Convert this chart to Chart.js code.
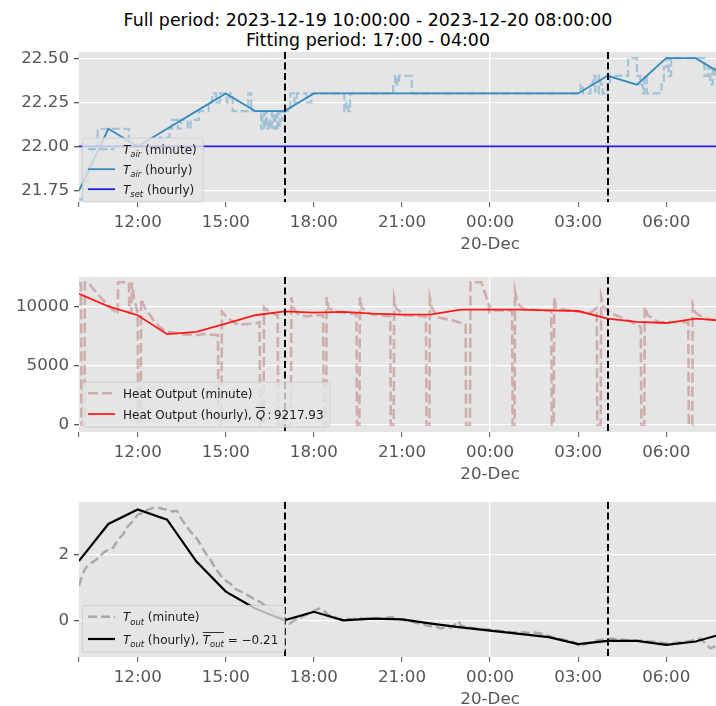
<!DOCTYPE html>
<html lang="en">
<head>
<meta charset="UTF-8">
<title>Heating fit: air, heat output, outdoor temperature</title>
<script src="https://cdn.jsdelivr.net/npm/chart.js"></script>
<style>
    html, body { margin: 0; padding: 0; background: #fff; overflow: hidden; }
    body { width: 716px; height: 706px; position: relative; font-family: 'DejaVu Sans', sans-serif; }
    .title { position: absolute; left: 0; top: 10px; width: 736px; text-align: center; font-size: 17.4px; line-height: 20px; color: #000; }
    .panel { position: absolute; left: 0; width: 730px; }
</style>
</head>
<body>
<div class="title">Full period: 2023-12-19 10:00:00 - 2023-12-20 08:00:00<br>Fitting period: 17:00 - 04:00</div>
<div class="panel" style="top:47px;height:225px"><canvas id="airChart"></canvas></div>
<div class="panel" style="top:272px;height:225px"><canvas id="heatChart"></canvas></div>
<div class="panel" style="top:497px;height:209px"><canvas id="outChart"></canvas></div>

<script>
// time axis
const hourLabels = ['10:00','11:00','12:00','13:00','14:00','15:00','16:00','17:00','18:00','19:00','20:00','21:00',
                    '22:00','23:00','00:00','01:00','02:00','03:00','04:00','05:00','06:00','07:00','08:00'];
const tickTimes  = ['10:00','12:00','15:00','18:00','21:00','00:00','03:00','06:00'];
const tickLabels = ['', '12:00','15:00','18:00','21:00','00:00','03:00','06:00'];
const dayLabel = '20-Dec';
const fitStart = '17:00';
const fitEnd = '04:00';

// hourly series
const tAirHourly = [21.75, 22.1, 22.0, 22.1, 22.2, 22.3, 22.2, 22.2, 22.3, 22.3, 22.3, 22.3,
                    22.3, 22.3, 22.3, 22.3, 22.3, 22.3, 22.4, 22.35, 22.5, 22.5, 22.4];
const tSetHourly = [22.0, 22.0, 22.0, 22.0, 22.0, 22.0, 22.0, 22.0, 22.0, 22.0, 22.0, 22.0,
                    22.0, 22.0, 22.0, 22.0, 22.0, 22.0, 22.0, 22.0, 22.0, 22.0, 22.0];
const heatHourly = [11130, 10060, 9300, 7690, 7880, 8590, 9300, 9630, 9520, 9580, 9430, 9350,
                    9380, 9770, 9770, 9770, 9720, 9660, 9010, 8730, 8640, 9010, 8820];
const tOutHourly = [1.8, 2.92, 3.36, 3.05, 1.78, 0.87, 0.36, 0.0, 0.26, 0.0, 0.05, 0.03,
                    -0.1, -0.21, -0.31, -0.41, -0.51, -0.72, -0.62, -0.62, -0.74, -0.64, -0.39];

// minute series, [time, value] where the value changes
const tAirMinute = [
    ['10:00',21.7],['10:08',21.8],['10:18',21.9],['10:28',22.0],['10:38',22.1],['11:42',22.0],['12:45',22.05],
    ['13:05',22.1],['13:10',22.15],['13:22',22.1],['13:28',22.15],['13:42',22.1],['13:48',22.15],['14:05',22.2],
    ['14:25',22.25],['14:32',22.3],['14:40',22.25],['14:48',22.3],['15:02',22.25],['15:08',22.3],['15:14',22.2],
    ['15:46',22.3],['15:52',22.2],['16:12',22.1],['16:15',22.2],['16:18',22.1],['16:21',22.2],['16:24',22.1],
    ['16:27',22.15],['16:30',22.1],['16:34',22.2],['16:38',22.1],['16:42',22.2],['16:46',22.1],['16:50',22.2],
    ['16:55',22.15],['17:00',22.2],['17:12',22.3],['17:20',22.25],['17:25',22.3],['17:45',22.25],['17:55',22.3],
    ['19:02',22.2],['19:06',22.25],['19:10',22.2],['19:14',22.3],['20:42',22.35],['20:46',22.4],['20:50',22.35],
    ['20:54',22.4],['21:20',22.3],['03:05',22.35],['03:10',22.3],['03:25',22.35],['03:30',22.4],['03:35',22.3],
    ['03:42',22.4],['03:46',22.35],['03:50',22.3],['04:00',22.35],['04:05',22.4],['04:42',22.5],['05:00',22.4],
    ['05:07',22.35],['05:12',22.3],['05:15',22.4],['05:20',22.3],['05:50',22.35],['05:55',22.45],['06:00',22.5],
    ['06:05',22.4],['06:10',22.5],['07:15',22.5],['07:18',22.4],['07:25',22.45],['07:30',22.35],['07:35',22.45],
    ['07:40',22.4],['08:00',22.4]
];
const heatMinute = [
    ['10:00',12000],['10:04',12000],['10:05',0],['10:11',0],['10:12',12100],['10:18',12100],['10:40',11000],
    ['11:03',10000],['11:19',9400],['11:20',12100],['11:42',12100],['11:43',9500],['11:47',9500],['11:48',12100],
    ['11:52',10800],['12:00',9500],['12:01',0],['12:06',0],['12:07',10700],['12:15',9900],['12:30',9000],
    ['12:45',8300],['13:00',7900],['13:15',7800],['13:30',7700],['13:45',7650],['14:00',7600],['14:15',7700],
    ['14:30',7650],['14:44',7600],['14:45',0],['14:51',0],['14:52',9600],['15:05',9000],['15:25',8500],
    ['15:45',8550],['16:00',8600],['16:09',8700],['16:10',0],['16:17',0],['16:18',10000],['16:28',9600],
    ['16:46',9300],['16:47',0],['17:13',0],['17:14',10850],['17:18',9900],['17:30',9300],['17:45',9200],
    ['18:00',9300],['18:19',9300],['18:20',0],['18:25',0],['18:26',10850],['18:30',9900],['18:45',9600],
    ['19:05',9500],['19:27',9400],['19:28',0],['19:33',0],['19:34',10850],['19:38',9900],['19:55',9400],
    ['20:15',9300],['20:36',9200],['20:37',0],['20:43',0],['20:44',10700],['20:48',9900],['21:05',9300],
    ['21:25',9250],['21:49',9200],['21:50',0],['21:56',0],['21:57',10700],['22:01',9900],['22:15',9100],
    ['22:40',8900],['23:10',8550],['23:11',0],['23:19',0],['23:20',12100],['23:42',12100],['23:57',10300],
    ['23:58',9300],['23:59',10100],['00:10',9700],['00:30',9700],['00:45',9700],['00:46',0],['00:50',0],
    ['00:51',11300],['00:56',10300],['01:10',9800],['01:35',9750],['02:05',9700],['02:06',0],['02:10',0],
    ['02:11',10850],['02:15',10000],['02:30',9800],['03:00',9600],['03:25',9500],['03:38',9900],['03:39',0],
    ['03:46',0],['03:47',10850],['03:52',10000],['04:05',9500],['04:35',9000],['05:00',8500],['05:08',8300],
    ['05:09',0],['05:15',0],['05:16',10000],['05:22',9300],['05:45',8700],['06:15',8700],['06:45',8700],
    ['06:46',0],['06:53',0],['06:54',10200],['07:00',9500],['07:20',9000],['07:40',8900],['08:00',8800]
];
const tOutMinute = [
    ['10:00',1.05],['10:06',1.35],['10:12',1.55],['10:20',1.7],['10:30',1.78],['10:40',1.9],['10:50',2.05],
    ['11:00',2.15],['11:10',2.2],['11:20',2.45],['11:30',2.6],['11:40',2.85],['11:50',3.0],['12:00',3.2],
    ['12:10',3.25],['12:20',3.35],['12:30',3.4],['12:40',3.42],['12:50',3.38],['13:00',3.35],['13:10',3.3],
    ['13:20',3.32],['13:30',3.05],['13:40',2.85],['13:50',2.65],['14:00',2.5],['14:10',2.25],['14:20',2.0],
    ['14:30',1.8],['14:40',1.55],['14:50',1.35],['15:00',1.2],['15:10',1.1],['15:20',0.95],['15:30',0.88],
    ['15:40',0.8],['15:50',0.72],['16:00',0.62],['16:10',0.56],['16:20',0.45],['16:30',0.35],['16:40',0.22],
    ['16:50',0.12],['17:00',0.02],['17:10',-0.1],['17:20',0.0],['17:30',0.06],['17:40',0.15],['17:50',0.2],
    ['18:00',0.28],['18:10',0.36],['18:20',0.3],['18:30',0.16],['18:40',0.1],['18:50',0.05],['19:00',0.01],
    ['19:10',0.05],['19:20',0.03],['19:30',0.08],['19:40',0.05],['19:50',0.06],['20:00',0.04],['20:10',0.07],
    ['20:20',0.05],['20:30',0.08],['20:40',0.1],['20:50',0.05],['21:00',0.02],['21:10',0.0],['21:20',-0.04],
    ['21:30',-0.08],['21:40',-0.1],['21:50',-0.15],['22:00',-0.18],['22:10',-0.2],['22:20',-0.25],['22:30',-0.2],
    ['22:40',-0.22],['22:50',-0.1],['22:55',-0.02],['23:00',-0.15],['23:10',-0.2],['23:20',-0.22],['23:30',-0.24],
    ['23:40',-0.25],['23:50',-0.27],['00:00',-0.28],['00:10',-0.3],['00:20',-0.32],['00:30',-0.33],['00:40',-0.35],
    ['00:50',-0.36],['01:00',-0.37],['01:10',-0.36],['01:20',-0.38],['01:30',-0.37],['01:40',-0.39],['01:50',-0.42],
    ['02:00',-0.47],['02:10',-0.52],['02:20',-0.55],['02:30',-0.58],['02:40',-0.62],['02:50',-0.65],['03:00',-0.75],
    ['03:05',-0.8],['03:10',-0.75],['03:20',-0.7],['03:30',-0.65],['03:40',-0.6],['03:50',-0.58],['04:00',-0.57],
    ['04:10',-0.55],['04:20',-0.57],['04:30',-0.58],['04:40',-0.6],['04:50',-0.6],['05:00',-0.62],['05:10',-0.62],
    ['05:20',-0.63],['05:30',-0.65],['05:40',-0.65],['05:50',-0.68],['06:00',-0.7],['06:10',-0.7],['06:20',-0.68],
    ['06:30',-0.66],['06:40',-0.65],['06:50',-0.62],['07:00',-0.58],['07:10',-0.55],['07:20',-0.7],['07:30',-0.85],
    ['07:40',-0.78],['07:50',-0.8],['08:00',-0.85]
];

// y axis ticks per panel
const airTicks = [21.75, 22.0, 22.25, 22.5];
const heatTicks = [0, 5000, 10000];
const outTicks = [0, 2];

const FONT = "'DejaVu Sans', sans-serif";
const TICK_SIZE = 16.7;

// hours since 10:00 on the first day
function toHours(hhmm) {
    const [h, m] = hhmm.split(':').map(Number);
    return ((h - 10 + 24) % 24) + m / 60;
}
function fromPairs(pairs) {
    return pairs.map(([t, v]) => ({ x: toHours(t), y: v }));
}
function fromHourly(vals) {
    return hourLabels.map((t, i) => ({ x: toHours(t), y: vals[i] }));
}

// draws (or measures) a label made of plain / italic / subscript / overlined pieces
function richText(ctx, parts, x, baseline, size, draw) {
    let cx = x, barFrom = null, barTo = null;
    parts.forEach(([text, st = '']) => {
        const sub = st.includes('s');
        const italic = sub || st.includes('i');
        const fs = sub ? size * 0.7 : size;
        ctx.font = (italic ? 'italic ' : '') + fs + 'px ' + FONT;
        const w = ctx.measureText(text).width;
        if (draw) ctx.fillText(text, cx, baseline + (sub ? size * 0.28 : 0));
        if (st.includes('b')) {
            if (barFrom === null) barFrom = cx;
            barTo = cx + w;
        }
        cx += w;
    });
    if (draw && barFrom !== null) {
        const by = Math.round(baseline - size * 0.98) + 0.5;
        ctx.save();
        ctx.strokeStyle = ctx.fillStyle;
        ctx.lineWidth = 0.9;
        ctx.setLineDash([]);
        ctx.beginPath(); ctx.moveTo(barFrom, by); ctx.lineTo(barTo, by); ctx.stroke();
        ctx.restore();
    }
    return cx - x;
}

function drawLegend(chart) {
    const cfg = chart.options.plugins.boxLegend;
    if (!cfg) return;
    const { ctx, chartArea: a } = chart;
    const items = chart.data.datasets.filter(d => d.rich);
    const size = 12;
    const textW = Math.max(...items.map(d => richText(ctx, d.rich, 0, 0, size, false)));
    const left = a.left + 3, w = 41 + textW + 6, h = cfg.height;
    const top = a.bottom - cfg.gap - h;
    ctx.save();
    ctx.beginPath();
    ctx.roundRect(left + 0.5, top + 0.5, w, h, 3);
    ctx.fillStyle = 'rgba(229,229,229,0.8)';
    ctx.fill();
    ctx.strokeStyle = 'rgba(204,204,204,0.8)';
    ctx.lineWidth = 1;
    ctx.stroke();
    items.forEach((d, i) => {
        const y = top + cfg.rows[i];
        ctx.beginPath();
        ctx.setLineDash(d.borderDash || []);
        ctx.strokeStyle = d.borderColor;
        ctx.lineWidth = d.borderWidth;
        ctx.moveTo(left + 6, y);
        ctx.lineTo(left + 33, y);
        ctx.stroke();
        ctx.setLineDash([]);
        ctx.fillStyle = '#1a1a1a';
        richText(ctx, d.rich, left + 41, y + 4.5, size, true);
    });
    ctx.restore();
}

const panelBg = {
    id: 'panelBg',
    beforeDraw(chart) {
        const { ctx, chartArea: a } = chart;
        ctx.save();
        ctx.fillStyle = '#E5E5E5';
        ctx.fillRect(a.left, a.top, a.right - a.left, a.bottom - a.top);
        ctx.restore();
    }
};

// fitting period bounds + legend on top of the data
const fitMarks = {
    id: 'fitMarks',
    afterDatasetsDraw(chart) {
        const { ctx, chartArea: a, scales: { x } } = chart;
        ctx.save();
        ctx.strokeStyle = '#000';
        ctx.lineWidth = 2;
        ctx.setLineDash([7, 3.5]);
        [fitStart, fitEnd].forEach(t => {
            const px = Math.round(x.getPixelForValue(toHours(t)));
            ctx.beginPath();
            ctx.moveTo(px, a.top);
            ctx.lineTo(px, a.bottom);
            ctx.stroke();
        });
        ctx.restore();
        drawLegend(chart);
    }
};

function makePanel(id, datasets, yMin, yMax, yTicks, yFmt, xHeight, legendCfg) {
    return new Chart(document.getElementById(id), {
        type: 'line',
        data: { datasets },
        options: {
            responsive: true,
            maintainAspectRatio: false,
            animation: false,
            layout: { padding: { top: 5, right: 5, left: 0, bottom: 0 } },
            elements: { point: { radius: 0 }, line: { tension: 0 } },
            plugins: { legend: { display: false }, tooltip: { enabled: false }, boxLegend: legendCfg },
            scales: {
                x: {
                    type: 'linear',
                    min: 0,
                    max: toHours('08:00'),
                    afterBuildTicks: s => { s.ticks = tickTimes.map(t => ({ value: toHours(t) })); },
                    afterFit: s => { s.height = xHeight; s.paddingLeft = 0; s.paddingRight = 0; },
                    border: { display: false },
                    grid: {
                        color: c => tickLabels[c.index] === '00:00' ? '#ffffff' : 'rgba(0,0,0,0)',
                        lineWidth: 1.3,
                        tickColor: '#555',
                        tickLength: 5,
                        tickWidth: 1
                    },
                    ticks: {
                        autoSkip: false,
                        maxRotation: 0,
                        color: '#555',
                        padding: 4,
                        font: { family: FONT, size: TICK_SIZE, lineHeight: 1.35 },
                        callback: (v, i) => tickLabels[i] === '00:00' ? [tickLabels[i], dayLabel] : tickLabels[i]
                    }
                },
                y: {
                    min: yMin,
                    max: yMax,
                    afterBuildTicks: s => { s.ticks = yTicks.map(v => ({ value: v })); },
                    afterFit: s => { s.width = 79; s.paddingTop = 0; s.paddingBottom = 0; },
                    border: { display: false },
                    grid: { color: '#ffffff', lineWidth: 1.3, tickColor: '#555', tickLength: 5 },
                    ticks: { color: '#555', padding: 5, font: { family: FONT, size: TICK_SIZE }, callback: yFmt }
                }
            }
        },
        plugins: [panelBg, fitMarks]
    });
}

makePanel('airChart', [
    { label: 'T_air (minute)', rich: [['T', 'i'], ['air', 's'], [' (minute)']],
      data: fromPairs(tAirMinute), stepped: true, borderColor: 'rgba(52,138,189,0.38)', borderWidth: 2.2,
      borderDash: [8, 3.5], order: 3 },
    { label: 'T_air (hourly)', rich: [['T', 'i'], ['air', 's'], [' (hourly)']],
      data: fromHourly(tAirHourly), borderColor: '#348ABD', borderWidth: 1.8, order: 2 },
    { label: 'T_set (hourly)', rich: [['T', 'i'], ['set', 's'], [' (hourly)']],
      data: fromHourly(tSetHourly), borderColor: '#1f1fe6', borderWidth: 1.8, order: 1 }
], 21.685, 22.535, airTicks, v => v.toFixed(2), 70, { height: 64, gap: 0.5, rows: [11.7, 31.7, 51.7] });

makePanel('heatChart', [
    { label: 'Heat Output (minute)', rich: [['Heat Output (minute)']],
      data: fromPairs(heatMinute), borderColor: 'rgba(160,60,60,0.33)', borderWidth: 2.6,
      borderDash: [10, 4], order: 2 },
    { label: 'Heat Output (hourly)', rich: [['Heat Output (hourly), '], ['Q', 'ib'], ['\u2009:\u20099217.93']],
      data: fromHourly(heatHourly), borderColor: '#ff1a1a', borderWidth: 1.8, order: 1 }
], -620, 12550, heatTicks, v => String(v), 65, { height: 45, gap: 5.3, rows: [11.6, 32.3] });

makePanel('outChart', [
    { label: 'T_out (minute)', rich: [['T', 'i'], ['out', 's'], [' (minute)']],
      data: fromPairs(tOutMinute), borderColor: 'rgba(128,128,128,0.6)', borderWidth: 2.4,
      borderDash: [9, 4], order: 2 },
    { label: 'T_out (hourly)', rich: [['T', 'i'], ['out', 's'], [' (hourly), '], ['T', 'ib'], ['out', 'sb'], [' = \u22120.21']],
      data: fromHourly(tOutHourly), borderColor: '#000', borderWidth: 2.2, order: 1 }
], -1.11, 3.585, outTicks, v => String(v), 49, { height: 46.7, gap: 5.3, rows: [11.7, 34] });
</script>
</body>
</html>
